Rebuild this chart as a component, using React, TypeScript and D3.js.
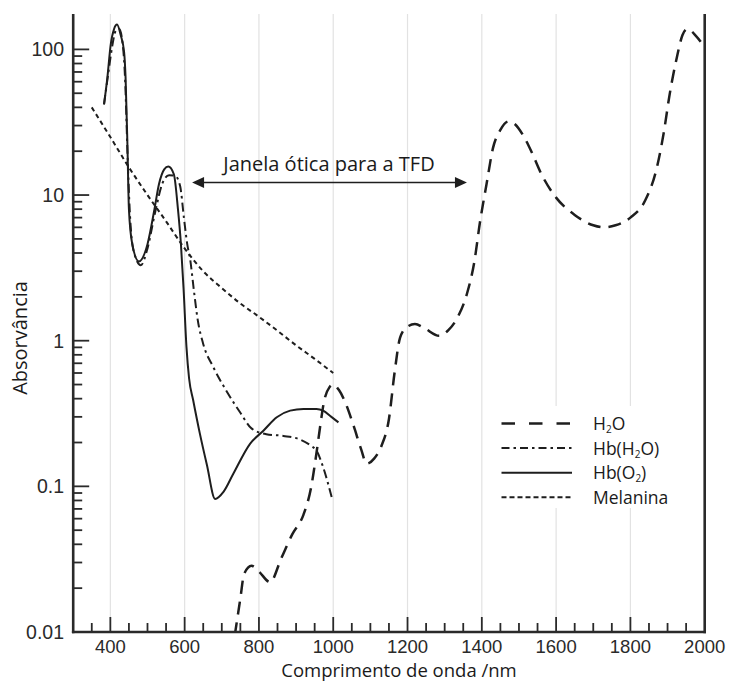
import { useEffect, useRef } from "react";
import * as d3 from "d3";

// H2O
const waveH2O = [735, 750, 760, 780, 800, 830, 860, 890, 920, 940, 955, 965, 975, 990, 1000, 1015, 1030, 1055, 1075, 1090, 1110, 1130, 1150, 1165, 1180, 1200, 1220, 1245, 1285, 1310, 1335, 1360, 1380, 1395, 1413, 1430, 1450, 1472, 1490, 1510, 1535, 1560, 1600, 1650, 1700, 1730, 1760, 1800, 1840, 1870, 1890, 1905, 1925, 1940, 1953, 1975, 1990, 2000];
const absH2O = [0.0095, 0.017, 0.025, 0.0285, 0.026, 0.022, 0.032, 0.047, 0.064, 0.097, 0.17, 0.26, 0.38, 0.48, 0.5, 0.46, 0.39, 0.26, 0.18, 0.143, 0.155, 0.19, 0.29, 0.6, 1.05, 1.25, 1.3, 1.22, 1.08, 1.18, 1.45, 2.1, 3.5, 6.5, 12, 21, 28, 32, 30.5, 26, 19.5, 14, 9.6, 7.3, 6.2, 6.0, 6.2, 7.0, 9.2, 15, 27, 48, 88, 125, 138, 125, 112, 102];

// Hb(H2O) - desoxi
const waveHb = [383, 395, 405, 415, 424, 433, 440, 446, 452, 462, 482, 500, 520, 540, 558, 575, 588, 598, 607, 615, 625, 635, 650, 677, 713, 750, 780, 820, 866, 910, 940, 955, 973, 996];
const absHb = [42, 70, 105, 135, 138, 110, 60, 20, 8, 4.2, 3.3, 4.3, 7.5, 12, 13.7, 13.5, 11.5, 7, 4.6, 3.6, 2.2, 1.4, 0.95, 0.66, 0.45, 0.32, 0.25, 0.228, 0.222, 0.21, 0.19, 0.176, 0.135, 0.084];

// Hb(O2)
const waveHbO2 = [383, 392, 401, 410, 418, 428, 437, 441, 446, 450, 459, 477, 500, 518, 531, 545, 556, 571, 582, 590, 597, 605, 612, 623, 641, 660, 682, 705, 731, 776, 812, 848, 884, 920, 955, 973, 995, 1014];
const absHbO2 = [42, 64, 108, 138, 148, 125, 96, 64, 22, 8, 4.6, 3.5, 4.6, 7.8, 11.9, 15, 15.7, 13.9, 8, 4.6, 2.3, 0.9, 0.55, 0.39, 0.23, 0.14, 0.082, 0.092, 0.122, 0.196, 0.241, 0.298, 0.331, 0.34, 0.34, 0.331, 0.3, 0.275];

// Melanina
const waveMel = [350, 400, 450, 500, 550, 600, 650, 700, 750, 800, 850, 900, 950, 1000];
const absMel = [40, 25, 15.5, 10, 6.6, 4.3, 3.0, 2.3, 1.8, 1.46, 1.17, 0.93, 0.75, 0.6];

const xTicks = [400, 600, 800, 1000, 1200, 1400, 1600, 1800, 2000];
const yTicks = [0.01, 0.1, 1, 10, 100];
const yTickText = ["0.01", "0.1", "1", "10", "100"];
const legendLabels = ["H₂O", "Hb(H₂O)", "Hb(O₂)", "Melanina"];

const W = 731, H = 682;
const ink = "#1e1e1e";
const numFont = "'Liberation Sans', Arial, sans-serif";
const txtFont = "'Open Sans', 'Noto Sans', sans-serif";

function addLabel(sel: any, label: string) {
  // subscripts written as ₂
  let sub = false;
  label.split(/(₂)/).filter((s) => s.length).forEach((part) => {
    if (part === "₂") {
      sel.append("tspan").attr("font-size", 10).attr("dy", 3).text("2");
      sub = true;
    } else {
      sel.append("tspan").attr("dy", sub ? -3 : 0).text(part);
      sub = false;
    }
  });
}

function drawChart(el: SVGSVGElement) {
  const svg = d3.select(el);
  svg.selectAll("*").remove();

  const left = 73.2, right = 704.7, top = 14, bottom = 632;
  const x = d3.scaleLinear().domain([300, 2000]).range([left, right]);
  const y = d3.scaleLog().domain([0.01, 175]).range([bottom, top]);

  svg.append("defs").append("clipPath").attr("id", "plotclip")
    .append("rect").attr("x", left).attr("y", top).attr("width", right - left).attr("height", bottom - top);

  // vertical grid
  svg.append("g").selectAll("line")
    .data(d3.range(400, 2000, 200))
    .join("line")
    .attr("x1", (d) => x(d)).attr("x2", (d) => x(d))
    .attr("y1", top).attr("y2", bottom)
    .attr("stroke", "#e2e2e2").attr("stroke-width", 1.2);

  // legend background
  svg.append("rect").attr("x", 495).attr("y", 406).attr("width", 205).attr("height", 102).attr("fill", "#fff");

  const series = [
    { w: waveH2O, v: absH2O, dash: "13,8", sw: 2.5, ldash: "13.5,14" },
    { w: waveHb, v: absHb, dash: "9,4,2.5,4", sw: 2, ldash: "8,4,2.5,4" },
    { w: waveHbO2, v: absHbO2, dash: null, sw: 2, ldash: null },
    { w: waveMel, v: absMel, dash: "4.5,3.5", sw: 2, ldash: "5,3" },
  ];

  const line = d3.line<[number, number]>()
    .x((d) => x(d[0]))
    .y((d) => y(d[1]))
    .curve(d3.curveMonotoneX);

  const curves = svg.append("g").attr("clip-path", "url(#plotclip)");
  series.forEach((s) => {
    curves.append("path")
      .attr("d", line(s.w.map((w, i) => [w, s.v[i]] as [number, number])))
      .attr("fill", "none")
      .attr("stroke", ink)
      .attr("stroke-width", s.sw)
      .attr("stroke-dasharray", s.dash)
      .attr("stroke-linecap", "butt");
  });

  // frame
  const frame = svg.append("g").attr("stroke", "#2a2a2a").attr("stroke-width", 2.6).attr("fill", "none");
  frame.append("line").attr("x1", left).attr("x2", left).attr("y1", top).attr("y2", bottom + 1.3);
  frame.append("line").attr("x1", left - 1.3).attr("x2", right + 1.3).attr("y1", bottom).attr("y2", bottom);
  frame.append("line").attr("x1", right).attr("x2", right).attr("y1", top).attr("y2", bottom + 1.3);

  // x ticks (inward)
  svg.append("g").selectAll("line")
    .data(d3.range(350, 2000, 50))
    .join("line")
    .attr("x1", (d) => x(d)).attr("x2", (d) => x(d))
    .attr("y1", bottom)
    .attr("y2", (d) => bottom - (d % 200 === 0 ? 15 : 9))
    .attr("stroke", "#2a2a2a").attr("stroke-width", 1.8);

  svg.append("g").selectAll("text")
    .data(xTicks)
    .join("text")
    .attr("x", (d) => x(d)).attr("y", 653)
    .attr("text-anchor", "middle")
    .attr("font-family", numFont).attr("font-size", 18.5).attr("fill", "#2a2a2a")
    .text((d) => String(d));

  // y ticks (inward)
  const yMinor: number[] = [];
  [0.01, 0.1, 1, 10, 100].forEach((dec) => {
    for (let k = 1; k <= 9; k++) if (dec * k <= 175) yMinor.push(dec * k);
  });
  svg.append("g").selectAll("line")
    .data(yMinor)
    .join("line")
    .attr("x1", left).attr("x2", (d, i) => left + (i % 9 === 0 ? 16 : 9))
    .attr("y1", (d) => y(d)).attr("y2", (d) => y(d))
    .attr("stroke", "#2a2a2a").attr("stroke-width", 1.8);

  svg.append("g").selectAll("text")
    .data(yTicks)
    .join("text")
    .attr("x", 64).attr("y", (d) => y(d))
    .attr("dy", "0.36em")
    .attr("text-anchor", "end")
    .attr("font-family", numFont).attr("font-size", 19.5).attr("fill", "#2a2a2a")
    .text((d, i) => yTickText[i]);

  // axis titles
  svg.append("text")
    .attr("x", 399).attr("y", 676.5)
    .attr("text-anchor", "middle")
    .attr("font-family", txtFont).attr("font-size", 18.5).attr("fill", "#1a1a1a")
    .text("Comprimento de onda /nm");
  svg.append("text")
    .attr("transform", "translate(27,338) rotate(-90)")
    .attr("text-anchor", "middle")
    .attr("font-family", txtFont).attr("font-size", 20).attr("fill", "#1a1a1a")
    .text("Absorvância");

  // optical window arrow
  const ay = y(12.2);
  const ax1 = x(620), ax2 = x(1360);
  svg.append("line")
    .attr("x1", ax1 + 8).attr("x2", ax2 - 8).attr("y1", ay).attr("y2", ay)
    .attr("stroke", ink).attr("stroke-width", 1.6);
  svg.append("path")
    .attr("d", `M${ax1},${ay} l12,-5.5 v11 z M${ax2},${ay} l-12,-5.5 v11 z`)
    .attr("fill", ink);
  svg.append("text")
    .attr("x", 329).attr("y", ay - 11.5)
    .attr("text-anchor", "middle")
    .attr("font-family", txtFont).attr("font-size", 20).attr("fill", "#1a1a1a")
    .text("Janela ótica para a TFD");

  // legend
  const lg = svg.append("g");
  series.forEach((s, i) => {
    const ly = 423.5 + i * 24.6;
    lg.append("line")
      .attr("x1", 501.5).attr("x2", 572).attr("y1", ly).attr("y2", ly)
      .attr("stroke", ink).attr("stroke-width", s.sw)
      .attr("stroke-dasharray", s.ldash);
    const t = lg.append("text")
      .attr("x", 593).attr("y", ly + 6.5)
      .attr("font-family", txtFont).attr("font-size", 17.5).attr("fill", "#1a1a1a");
    addLabel(t, legendLabels[i]);
  });
}

export default function App() {
  const ref = useRef<SVGSVGElement>(null);
  useEffect(() => {
    if (ref.current) drawChart(ref.current);
  }, []);
  return (
    <svg
      ref={ref}
      width={W}
      height={H}
      style={{ position: "absolute", left: 0, top: 0, background: "#fff" }}
    />
  );
}
